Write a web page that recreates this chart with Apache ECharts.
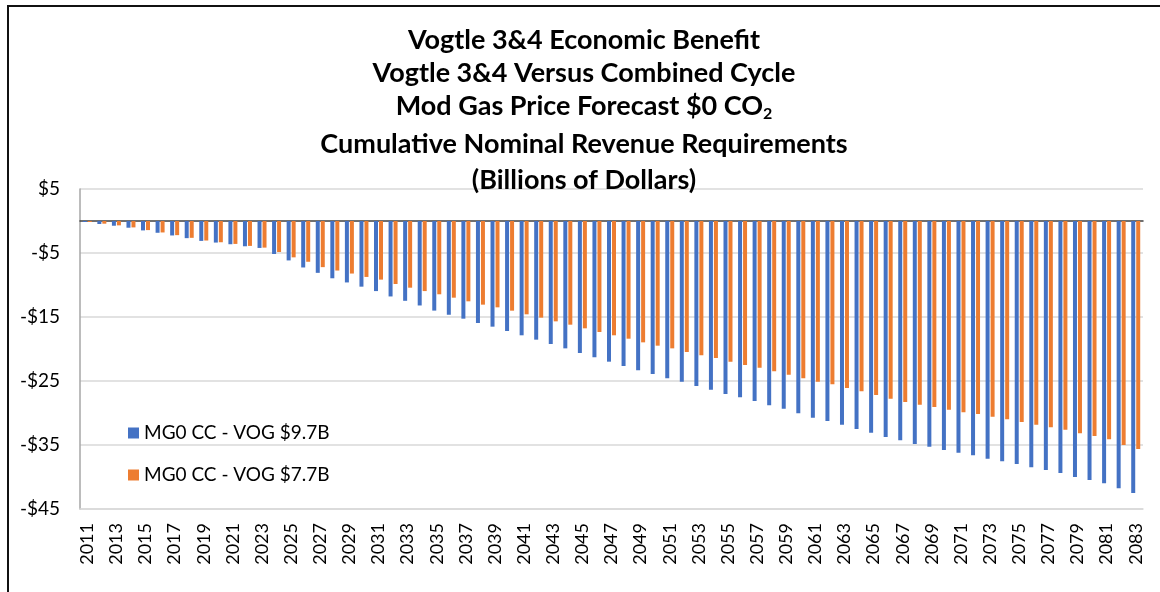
<!DOCTYPE html>
<html>
<head>
<meta charset="utf-8">
<script src="https://cdn.jsdelivr.net/npm/echarts@6/dist/echarts.min.js"></script>
<style>
  html, body { margin: 0; padding: 0; background: #fff; }
  #wrap { position: relative; width: 1160px; height: 592px; }
  #chart { width: 1160px; height: 592px; }
  #frame { position: absolute; left: 7px; top: 5px; right: -4px; bottom: -4px;
           border-left: 2px solid #111; border-top: 2px solid #111; pointer-events: none; }
</style>
</head>
<body>
<div id="wrap">
  <div id="chart"></div>
  <div id="frame"></div>
</div>
<script>
"use strict";

var years = [
  '2011','2012','2013','2014','2015','2016','2017','2018','2019','2020',
  '2021','2022','2023','2024','2025','2026','2027','2028','2029','2030',
  '2031','2032','2033','2034','2035','2036','2037','2038','2039','2040',
  '2041','2042','2043','2044','2045','2046','2047','2048','2049','2050',
  '2051','2052','2053','2054','2055','2056','2057','2058','2059','2060',
  '2061','2062','2063','2064','2065','2066','2067','2068','2069','2070',
  '2071','2072','2073','2074','2075','2076','2077','2078','2079','2080',
  '2081','2082','2083'
];

// MG0 CC - VOG $9.7B
var vog97 = [
  -0.16, -0.47, -0.74, -1.05, -1.47, -1.84, -2.26, -2.68, -3.11, -3.37,
  -3.63, -3.95, -4.21, -5.16, -6.16, -7.26, -8.10, -8.95, -9.60, -10.26,
  -10.95, -11.79, -12.47, -13.20, -14.00, -14.65, -15.26, -15.94, -16.51, -17.19,
  -17.86, -18.54, -19.22, -19.90, -20.63, -21.30, -21.98, -22.66, -23.33, -23.91,
  -24.58, -25.10, -25.78, -26.35, -27.03, -27.55, -28.13, -28.80, -29.35, -30.02,
  -30.73, -31.25, -31.82, -32.50, -33.07, -33.75, -34.27, -34.84, -35.26, -35.78,
  -36.20, -36.61, -37.14, -37.55, -37.97, -38.49, -38.91, -39.38, -40.00, -40.47,
  -40.99, -41.77, -42.50
];

// MG0 CC - VOG $7.7B
var vog77 = [
  -0.16, -0.42, -0.68, -1.00, -1.42, -1.79, -2.21, -2.63, -3.05, -3.32,
  -3.58, -3.89, -4.16, -4.84, -5.68, -6.37, -7.21, -7.74, -8.21, -8.74,
  -9.16, -9.84, -10.42, -10.95, -11.45, -11.98, -12.55, -13.07, -13.49, -14.01,
  -14.58, -15.10, -15.68, -16.20, -16.77, -17.34, -17.86, -18.39, -18.96, -19.48,
  -19.90, -20.47, -20.99, -21.41, -21.98, -22.50, -22.92, -23.49, -24.01, -24.58,
  -25.10, -25.52, -26.09, -26.61, -27.19, -27.76, -28.28, -28.70, -29.06, -29.48,
  -29.90, -30.16, -30.57, -30.99, -31.41, -31.82, -32.24, -32.60, -33.18, -33.59,
  -34.11, -35.00, -35.63
];

// rich-text lines of the title ({s|..} is the subscript)
var titleLines = [
  '{t|Vogtle 3&4 Economic Benefit}',
  '{t|Vogtle 3&4 Versus Combined Cycle}',
  '{t|Mod Gas Price Forecast $0 CO}{s|2}',
  '{t|Cumulative Nominal Revenue Requirements}',
  '{t|(Billions of Dollars)}'
];
var titleCenters = [40, 73, 106, 144, 180];

var FONT = 'Lato';

var chart = echarts.init(document.getElementById('chart'));

var titles = titleLines.map(function (t, i) {
  return {
    text: t,
    left: 584,
    textAlign: 'center',
    top: titleCenters[i] - 16,
    padding: 0,
    textStyle: {
      rich: {
        t: { fontFamily: FONT, fontWeight: 'bold', fontSize: 27, lineHeight: 32, color: '#000' },
        s: { fontFamily: FONT, fontWeight: 'bold', fontSize: 16, lineHeight: 18, color: '#000',
             verticalAlign: 'bottom' }
      }
    }
  };
});

var option = {
  backgroundColor: '#ffffff',
  animation: false,
  title: titles,
  legend: {
    orient: 'vertical',
    left: 128,
    top: 423,
    padding: 0,
    itemWidth: 11,
    itemHeight: 11,
    itemGap: 22,
    icon: 'rect',
    textStyle: { fontFamily: FONT, fontSize: 19, lineHeight: 20, color: '#000' },
    data: ['MG0 CC - VOG $9.7B', 'MG0 CC - VOG $7.7B']
  },
  grid: { left: 80, right: 17, top: 189, bottom: 83 },
  xAxis: [{
    type: 'category',
    data: years,
    position: 'bottom',
    axisLine: { show: true, onZero: false, lineStyle: { color: '#d9d9d9', width: 1.5 } },
    axisTick: { show: false },
    axisLabel: {
      interval: 1,
      rotate: 90,
      margin: 14,
      fontFamily: FONT,
      fontSize: 18,
      color: '#000'
    }
  }, {
    type: 'category',
    data: years,
    position: 'top',
    axisLine: { show: true, onZero: true, lineStyle: { color: '#404040', width: 1.5 } },
    axisTick: { show: false },
    axisLabel: { show: false },
    splitLine: { show: false }
  }],
  yAxis: {
    type: 'value',
    min: -45,
    max: 5,
    interval: 5,
    axisLine: { show: true, lineStyle: { color: '#a6a6a6', width: 1.5 } },
    axisTick: { show: false },
    axisLabel: {
      margin: 20,
      fontFamily: FONT,
      fontSize: 19,
      color: '#000',
      formatter: function (v) {
        if (Math.abs(v % 10) !== 5) return '';
        return v < 0 ? '-$' + Math.abs(v) : '$' + v;
      }
    },
    splitLine: {
      show: true,
      lineStyle: { color: ['#d9d9d9', 'rgba(0,0,0,0)'], width: 1.5 }
    }
  },
  series: [{
    name: 'MG0 CC - VOG $9.7B',
    type: 'bar',
    xAxisIndex: 0,
    data: vog97,
    barWidth: 4,
    barGap: '25%',
    itemStyle: { color: '#4472C4' }
  }, {
    name: 'MG0 CC - VOG $7.7B',
    type: 'bar',
    xAxisIndex: 0,
    data: vog77,
    barWidth: 4,
    barGap: '25%',
    itemStyle: { color: '#ED7D31' }
  }]
};

chart.setOption(option);
</script>
</body>
</html>
